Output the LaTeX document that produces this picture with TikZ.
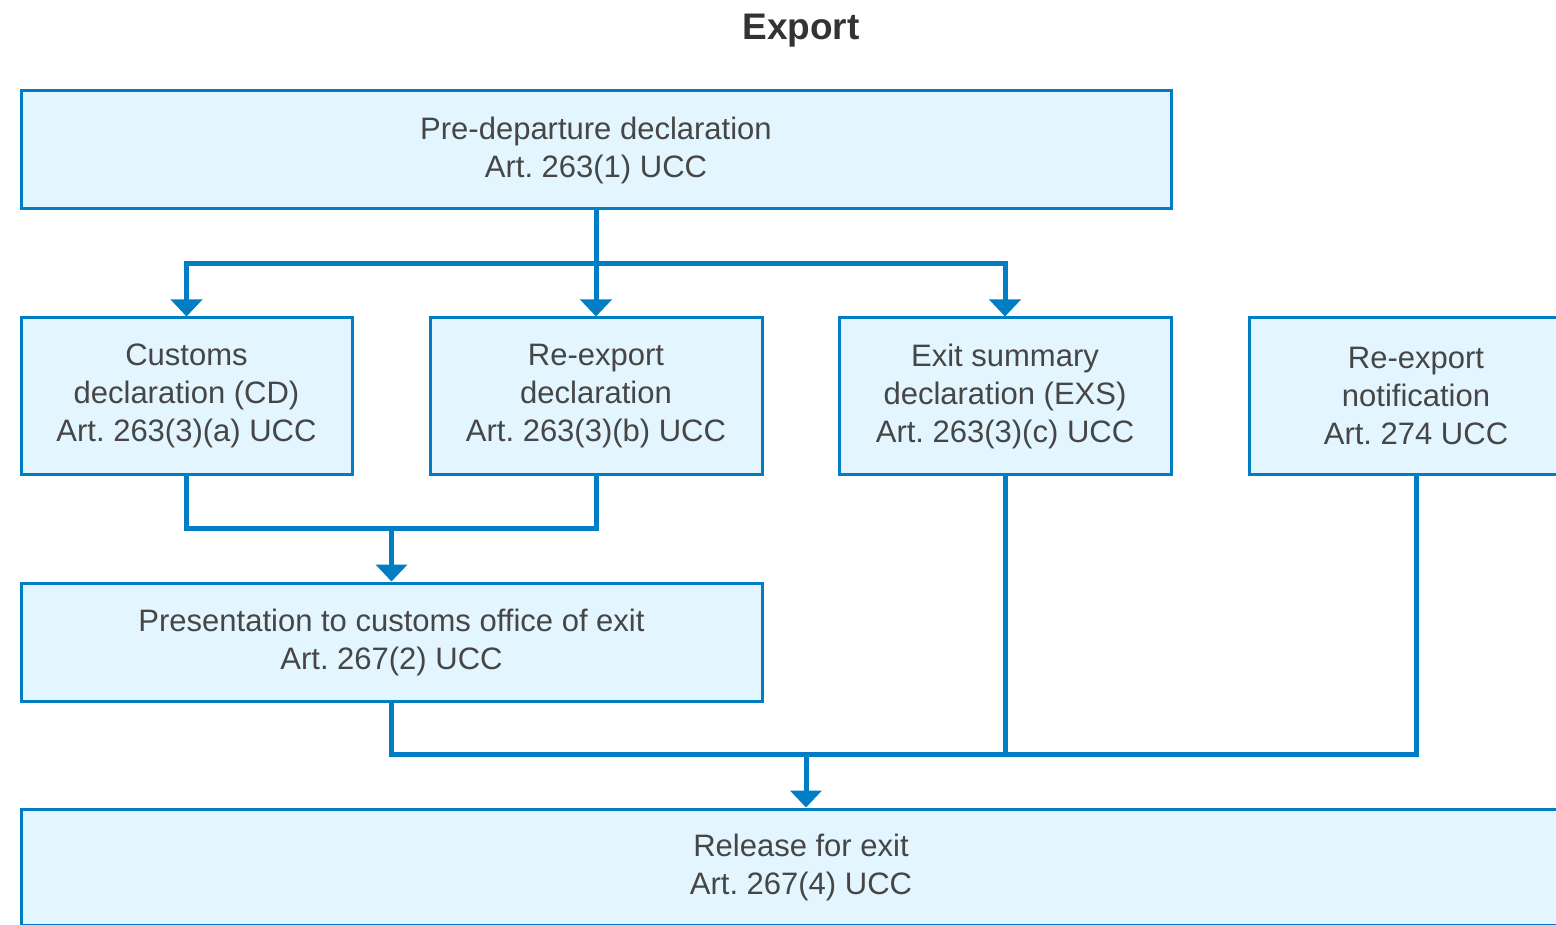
\documentclass[tikz,border=0pt]{standalone}
\usepackage{fontspec}
\setmainfont{Liberation Sans}
\usepackage{tikz}
\usetikzlibrary{arrows.meta}
\usetikzlibrary{positioning}

\definecolor{lineblue}{RGB}{0,125,195}
\definecolor{boxfill}{RGB}{227,245,254}
\definecolor{txtgrey}{RGB}{70,70,70}
\definecolor{titlegrey}{RGB}{51,51,51}

\frenchspacing

\begin{document}
\begin{tikzpicture}
        [x=1pt, y=-1pt,
         box/.style={draw=lineblue, fill=boxfill, line width=3pt, text=txtgrey,
                     align=center, inner sep=0pt, font=\fontsize{31}{38}\selectfont},
         flow/.style={draw=lineblue, line width=5pt},
         tip/.style={-{Triangle[width=31pt,length=17pt]}}]
        \useasboundingbox (0,0) rectangle (1556,925);
        \clip (0,0) rectangle (1556,925);

        \node [font=\bfseries\fontsize{37}{44}\selectfont, text=titlegrey] (title) at (801,31) {Export};

        \node [box, minimum width=1150pt, minimum height=118pt] (pre) at (596,150) {Pre-departure declaration\\Art. 263(1) UCC};

        \node [box, minimum width=331pt, minimum height=156pt] (cd) at (186.5,396) {Customs\\declaration (CD)\\Art. 263(3)(a) UCC};
        \node [box, minimum width=332pt, minimum height=156pt] (red) at (596,396) {Re-export\\declaration\\Art. 263(3)(b) UCC};
        \node [box, minimum width=332pt, minimum height=156pt] (exs) at (1005,396) {Exit summary\\declaration (EXS)\\Art. 263(3)(c) UCC};
        \node [box, minimum width=334pt, minimum height=156pt] (ren) at (1416,396) {Re-export\\notification\\Art. 274 UCC};

        \node [box, minimum width=741pt, minimum height=118pt] (pres) at (391.5,642) {Presentation to customs office of exit\\Art. 267(2) UCC};

        \node [box, minimum width=1560pt, minimum height=116pt] (rel) at (801,867) {Release for exit\\Art. 267(4) UCC};

        \coordinate (split) at (596,264);
        \coordinate (joinA) at (391.5,528);
        \coordinate (joinB) at (806,754);

        \draw [flow] (pre.south) -- (split);
        \draw [flow, tip] (split) -| (cd.north);
        \draw [flow, tip] (split) -- (red.north);
        \draw [flow, tip] (split) -| (exs.north);

        \draw [flow] (cd.south) |- (joinA) -| (red.south);
        \draw [flow, tip] (joinA) -- (pres.north);

        \draw [flow] (pres.south) |- (joinB) -- (joinB -| ren.south) -- (ren.south);
        \draw [flow] (exs.south) -- (exs.south |- joinB);
        \draw [flow, tip] (joinB) -- (joinB |- rel.north);
\end{tikzpicture}
\end{document}
